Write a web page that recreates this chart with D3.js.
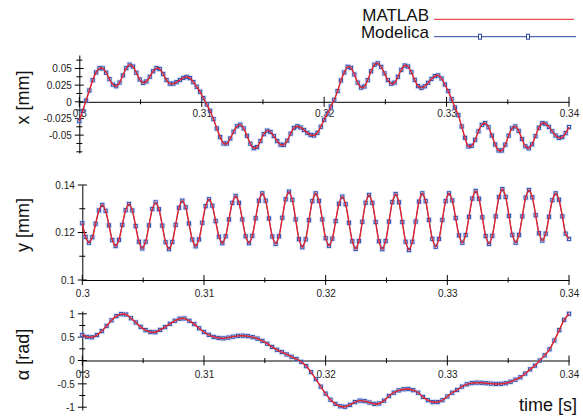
<!DOCTYPE html>
<html>
<head>
<meta charset="utf-8">
<script src="https://cdn.jsdelivr.net/npm/d3@7"></script>
<style>
  body { margin: 0; background: #fff; }
  svg { display: block; }
  text { font-family: "Liberation Sans", Arial, sans-serif; fill: #111; }
</style>
</head>
<body>
<svg id="chart" width="583" height="418"></svg>
<script>
// Simulation time window and time-axis ticks
const timeDomain = [0.3, 0.34];
const timeMajor = [0.3, 0.31, 0.32, 0.33, 0.34];
const timeMinor = [0.305, 0.315, 0.325, 0.335];

// Output grids: x and y are stored on the fine grid, alpha on the coarse grid
const fineTime = d3.range(147).map(i => 0.3 + i * 0.04 / 146);
const coarseTime = d3.range(101).map(i => 0.3 + i * 0.0004);

// x displacement [mm]
const xValues = [
  -0.0290, -0.0138, 0.0018, 0.0170, 0.0325, 0.0440, 0.0503, 0.0501, 0.0436, 0.0340,
  0.0258, 0.0234, 0.0289, 0.0396, 0.0505, 0.0557, 0.0529, 0.0435, 0.0335, 0.0284,
  0.0306, 0.0375, 0.0458, 0.0505, 0.0492, 0.0417, 0.0327, 0.0272, 0.0273, 0.0295,
  0.0327, 0.0358, 0.0374, 0.0355, 0.0295, 0.0225, 0.0150, 0.0055, -0.0040, -0.0135,
  -0.0260, -0.0400, -0.0530, -0.0625, -0.0626, -0.0550, -0.0449, -0.0367, -0.0343, -0.0399,
  -0.0510, -0.0629, -0.0695, -0.0680, -0.0589, -0.0485, -0.0433, -0.0453, -0.0514, -0.0589,
  -0.0643, -0.0646, -0.0582, -0.0478, -0.0393, -0.0367, -0.0386, -0.0423, -0.0466, -0.0498,
  -0.0505, -0.0465, -0.0375, -0.0270, -0.0175, -0.0070, 0.0030, 0.0160, 0.0320, 0.0440,
  0.0525, 0.0510, 0.0410, 0.0288, 0.0213, 0.0230, 0.0326, 0.0458, 0.0556, 0.0577,
  0.0523, 0.0426, 0.0325, 0.0271, 0.0288, 0.0375, 0.0480, 0.0544, 0.0529, 0.0444,
  0.0329, 0.0235, 0.0209, 0.0233, 0.0285, 0.0343, 0.0386, 0.0396, 0.0350, 0.0260,
  0.0160, 0.0040, -0.0085, -0.0200, -0.0370, -0.0540, -0.0670, -0.0661, -0.0570, -0.0443,
  -0.0346, -0.0319, -0.0382, -0.0506, -0.0640, -0.0730, -0.0730, -0.0643, -0.0508, -0.0399,
  -0.0369, -0.0436, -0.0559, -0.0668, -0.0698, -0.0637, -0.0516, -0.0390, -0.0321, -0.0328,
  -0.0376, -0.0443, -0.0506, -0.0541, -0.0530, -0.0470, -0.0380
];

// y displacement [mm]
const yValues = [
  0.1239, 0.1181, 0.1157, 0.1180, 0.1237, 0.1293, 0.1316, 0.1291, 0.1230, 0.1168,
  0.1143, 0.1169, 0.1232, 0.1294, 0.1320, 0.1293, 0.1227, 0.1161, 0.1133, 0.1161,
  0.1230, 0.1299, 0.1327, 0.1298, 0.1229, 0.1159, 0.1130, 0.1160, 0.1232, 0.1304,
  0.1334, 0.1306, 0.1238, 0.1170, 0.1142, 0.1171, 0.1241, 0.1311, 0.1340, 0.1313,
  0.1248, 0.1182, 0.1155, 0.1184, 0.1255, 0.1325, 0.1354, 0.1325, 0.1255, 0.1184,
  0.1155, 0.1186, 0.1260, 0.1334, 0.1365, 0.1334, 0.1259, 0.1183, 0.1152, 0.1184,
  0.1262, 0.1340, 0.1372, 0.1338, 0.1255, 0.1172, 0.1138, 0.1171, 0.1252, 0.1332,
  0.1365, 0.1333, 0.1255, 0.1176, 0.1144, 0.1174, 0.1248, 0.1321, 0.1351, 0.1319,
  0.1241, 0.1163, 0.1131, 0.1164, 0.1245, 0.1325, 0.1358, 0.1325, 0.1244, 0.1163,
  0.1130, 0.1164, 0.1246, 0.1328, 0.1362, 0.1327, 0.1244, 0.1161, 0.1126, 0.1161,
  0.1246, 0.1330, 0.1365, 0.1332, 0.1253, 0.1173, 0.1140, 0.1173, 0.1253, 0.1332,
  0.1365, 0.1335, 0.1261, 0.1188, 0.1157, 0.1189, 0.1266, 0.1343, 0.1375, 0.1342,
  0.1264, 0.1185, 0.1152, 0.1186, 0.1268, 0.1349, 0.1383, 0.1350, 0.1270, 0.1190,
  0.1157, 0.1190, 0.1268, 0.1347, 0.1379, 0.1348, 0.1273, 0.1197, 0.1166, 0.1195,
  0.1266, 0.1336, 0.1365, 0.1338, 0.1268, 0.1195, 0.1173
];

// rotation angle alpha [rad]
const alphaValues = [
  0.546, 0.505, 0.497, 0.545, 0.630, 0.740, 0.860, 0.950, 0.993, 0.985,
  0.905, 0.815, 0.720, 0.650, 0.610, 0.605, 0.655, 0.715, 0.785, 0.850,
  0.895, 0.900, 0.850, 0.780, 0.690, 0.610, 0.550, 0.505, 0.482, 0.475,
  0.490, 0.510, 0.528, 0.531, 0.522, 0.500, 0.468, 0.420, 0.360, 0.290,
  0.230, 0.180, 0.130, 0.080, 0.030, -0.030, -0.120, -0.250, -0.400, -0.560,
  -0.710, -0.840, -0.930, -0.980, -0.990, -0.950, -0.890, -0.860, -0.870, -0.900,
  -0.930, -0.920, -0.860, -0.760, -0.690, -0.640, -0.615, -0.610, -0.635, -0.690,
  -0.780, -0.850, -0.890, -0.890, -0.850, -0.770, -0.690, -0.630, -0.560, -0.510,
  -0.485, -0.475, -0.478, -0.487, -0.495, -0.502, -0.500, -0.487, -0.455, -0.410,
  -0.360, -0.280, -0.190, -0.110, 0.000, 0.110, 0.240, 0.430, 0.650, 0.870,
  1.000
];

// Value-axis ticks and labels
const xTicks = [-0.075, -0.0625, -0.05, -0.0375, -0.025, -0.0125, 0, 0.0125, 0.025, 0.0375, 0.05, 0.0625];
const xLabels = [-0.05, -0.025, 0, 0.025, 0.05];
const yTicks = [0.1, 0.11, 0.12, 0.13, 0.14];
const yLabels = [0.1, 0.12, 0.14];
const alphaTicks = [-1, -0.75, -0.5, -0.25, 0, 0.25, 0.5, 0.75, 1];
const alphaLabels = [-1, -0.5, 0, 0.5, 1];

const seriesNames = ["MATLAB", "Modelica"];

const RED = "#e3222c";
const BLUE = "#2b47a6";
const HALO = "#a8bdec";

const svg = d3.select("#chart");

const panels = [
  { time: fineTime, values: xValues, xRange: [79.3, 569], domain: [-0.0768, 0.0702], yRange: [153, 55],
    ticks: xTicks, labels: xLabels, timeAxisAt: 0, timePad: 8, title: "x [mm]", titleY: 97.5 },
  { time: fineTime, values: yValues, xRange: [82.3, 569], domain: [0.1, 0.14], yRange: [280, 185],
    ticks: yTicks, labels: yLabels, timeAxisAt: 0.1, timePad: 9.5, title: "y [mm]", titleY: 225 },
  { time: coarseTime, values: alphaValues, xRange: [82.3, 569], domain: [-1.06, 1.06], yRange: [410, 311],
    ticks: alphaTicks, labels: alphaLabels, timeAxisAt: 0, timePad: 10, title: "\u03b1 [rad]", titleY: 354.5 }
];

function styleAxis(sel) {
  sel.attr("font-family", null).attr("font-size", null);
  sel.select(".domain").attr("stroke", "#000").attr("stroke-width", 1);
  sel.selectAll("text").attr("font-size", 10).style("fill", "#222");
}

panels.forEach(p => {
  const x = d3.scaleLinear().domain(timeDomain).range(p.xRange);
  const y = d3.scaleLinear().domain(p.domain).range(p.yRange);
  const g = svg.append("g");
  const x0 = p.xRange[0];
  const axisY = y(p.timeAxisAt);

  // value axis with labels
  g.append("g")
    .attr("transform", `translate(${x0},0)`)
    .call(d3.axisLeft(y).tickValues(p.labels).tickSize(0).tickSizeOuter(0).tickPadding(7.5).tickFormat(d => String(d)))
    .call(styleAxis);

  // value ticks crossing the axis
  g.append("g").selectAll("line").data(p.ticks).join("line")
    .attr("x1", d => x0 - (p.labels.includes(d) ? 4.5 : 3))
    .attr("x2", d => x0 + (p.labels.includes(d) ? 4.5 : 3))
    .attr("y1", d => y(d)).attr("y2", d => y(d))
    .attr("stroke", "#000").attr("stroke-width", 1);

  // time axis
  g.append("g")
    .attr("transform", `translate(0,${axisY})`)
    .call(d3.axisBottom(x).tickValues(timeMajor).tickSize(0).tickSizeOuter(0).tickPadding(p.timePad).tickFormat(d => String(d)))
    .call(styleAxis);

  g.append("g").selectAll("line").data(timeMajor.concat(timeMinor)).join("line")
    .attr("x1", d => x(d)).attr("x2", d => x(d))
    .attr("y1", d => axisY - (timeMajor.includes(d) ? 5 : 2.5))
    .attr("y2", d => axisY + (timeMajor.includes(d) ? 5 : 2.5))
    .attr("stroke", "#000").attr("stroke-width", 1);

  // axis title
  svg.append("text")
    .attr("transform", `translate(29,${p.titleY}) rotate(-90)`)
    .attr("text-anchor", "middle")
    .attr("font-size", 18)
    .text(p.title);

  const pts = p.time.map((t, i) => [x(t), y(p.values[i])]);

  // Modelica result: line with square markers
  g.append("path")
    .attr("d", d3.line()(pts))
    .attr("fill", "none").attr("stroke", BLUE).attr("stroke-width", 0.8);
  g.append("g").selectAll("rect").data(pts).join("rect")
    .attr("x", d => d[0] - 3).attr("y", d => d[1] - 3)
    .attr("width", 6).attr("height", 6)
    .attr("fill", HALO).attr("opacity", 0.45);
  g.append("g").selectAll("rect").data(pts).join("rect")
    .attr("x", d => d[0] - 1.6).attr("y", d => d[1] - 1.6)
    .attr("width", 3.2).attr("height", 3.2)
    .attr("fill", "none").attr("stroke", BLUE).attr("stroke-width", 0.9);

  // MATLAB result: smooth red line on top
  g.append("path")
    .attr("d", d3.line().curve(d3.curveCatmullRom)(pts))
    .attr("fill", "none").attr("stroke", RED).attr("stroke-width", 1.4);
});

// time axis title
svg.append("text")
  .attr("x", 577).attr("y", 410.5)
  .attr("text-anchor", "end")
  .attr("font-size", 18)
  .text("time [s]");

// legend
const legend = svg.append("g");
legend.selectAll("text").data(seriesNames).join("text")
  .attr("x", 429).attr("y", (d, i) => 20.5 + i * 17.5)
  .attr("text-anchor", "end")
  .attr("font-size", 17)
  .text(d => d);
legend.append("line")
  .attr("x1", 434).attr("x2", 574).attr("y1", 19.3).attr("y2", 19.3)
  .attr("stroke", RED).attr("stroke-width", 1);
legend.append("line")
  .attr("x1", 434).attr("x2", 576).attr("y1", 36.7).attr("y2", 36.7)
  .attr("stroke", BLUE).attr("stroke-width", 1);
legend.selectAll("rect.mk").data([480, 528]).join("rect")
  .attr("class", "mk")
  .attr("x", d => d - 1.5).attr("y", 34.2)
  .attr("width", 3).attr("height", 5)
  .attr("fill", "#fff").attr("stroke", BLUE).attr("stroke-width", 1);
</script>
</body>
</html>
